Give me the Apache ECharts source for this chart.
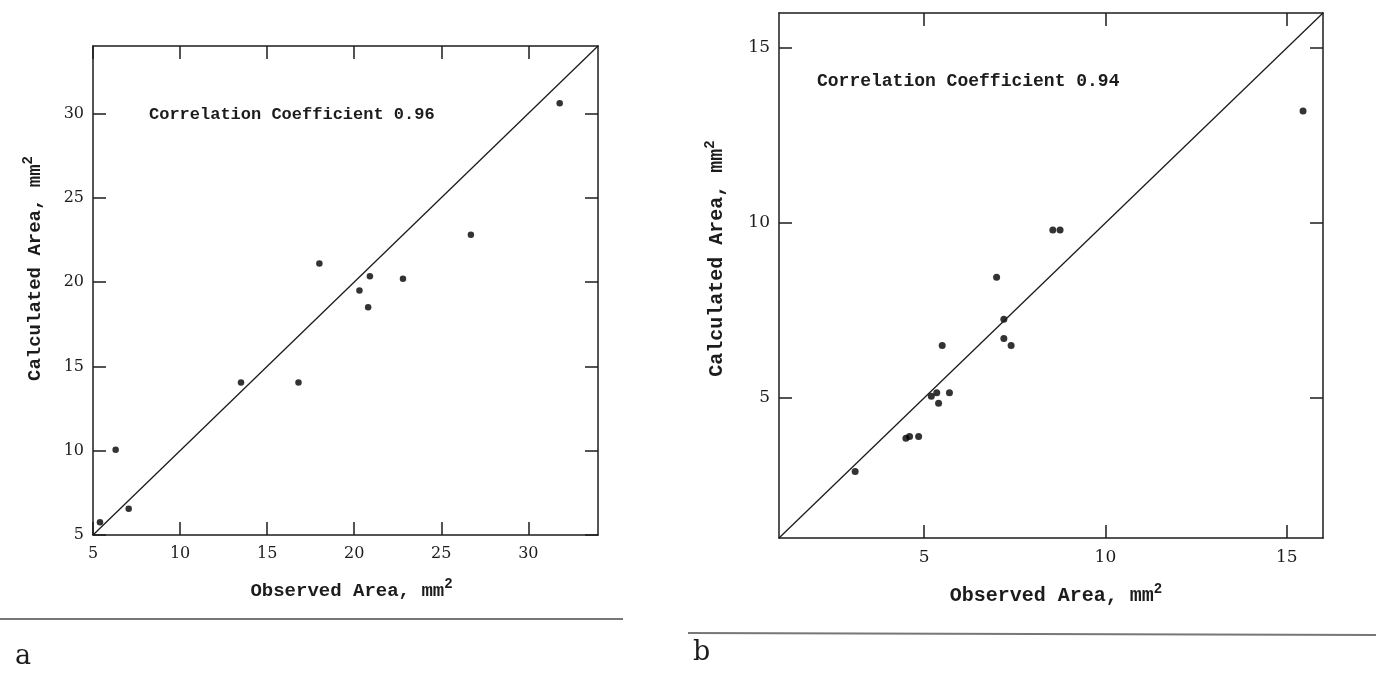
<!DOCTYPE html>
<html>
<head>
<meta charset="utf-8">
<script src="https://cdn.jsdelivr.net/npm/echarts@6/dist/echarts.min.js"></script>
<style>
  html, body { margin: 0; padding: 0; background: #fff; }
  #main { width: 1376px; height: 674px; }
</style>
</head>
<body>
<div id="main"></div>
<script>
// panel a
const leftObserved   = [5.4, 6.3, 7.05, 13.5, 16.8, 18.0, 20.3, 20.8, 20.9, 22.8, 26.7, 31.8];
const leftCalculated = [5.75, 10.05, 6.55, 14.05, 14.05, 21.1, 19.5, 18.5, 20.35, 20.2, 22.8, 30.6];
const leftRange = [5, 34];
const leftTicks = [5, 10, 15, 20, 25, 30];
const leftNote = 'Correlation Coefficient 0.96';

// panel b
const rightObserved   = [3.1, 4.5, 4.6, 4.85, 5.2, 5.35, 5.7, 5.4, 5.5, 7.0, 7.2, 7.2, 7.4, 8.55, 8.75, 15.45];
const rightCalculated = [2.9, 3.85, 3.9, 3.9, 5.05, 5.15, 5.15, 4.85, 6.5, 8.45, 7.25, 6.7, 6.5, 9.8, 9.8, 13.2];
const rightRange = [1, 16];
const rightTicks = [5, 10, 15];
const rightNote = 'Correlation Coefficient 0.94';

const xName = 'Observed Area, mm{sup|2}';
const yName = 'Calculated Area, mm{sup|2}';

const ink = '#1c1c1c';
const labelFont = 'DejaVu Serif';
const textFont = 'Liberation Mono';

const zip = (a, b) => a.map((v, i) => [v, b[i]]);

// one side of the boxed frame, ticks pointing inward
function axis(grid, pos, range, ticks, opts) {
  opts = opts || {};
  return {
    type: 'value',
    gridIndex: grid,
    position: pos,
    min: range[0],
    max: range[1],
    splitLine: { show: false },
    axisLine: { show: true, onZero: false, lineStyle: { color: ink, width: 1.5 } },
    axisTick: { show: true, inside: true, length: 13, customValues: ticks, lineStyle: { color: ink, width: 1.5 } },
    axisLabel: {
      show: !!opts.labels,
      customValues: ticks,
      showMinLabel: true,
      margin: opts.margin || 10,
      color: ink,
      fontFamily: labelFont,
      fontSize: opts.fontSize || 16
    },
    name: opts.name || '',
    nameLocation: 'middle',
    nameGap: opts.nameGap || 40,
    nameTextStyle: {
      color: ink,
      fontFamily: textFont,
      fontWeight: 'bold',
      fontSize: opts.nameSize || 19,
      padding: opts.namePad || 0,
      rich: {
        sup: { fontSize: 14, fontWeight: 'bold', fontFamily: textFont, color: ink, verticalAlign: 'top', padding: [0, 0, 14, 0] }
      }
    }
  };
}

const myChart = echarts.init(document.getElementById('main'));

const option = {
  backgroundColor: '#fff',
  animation: false,
  title: [
    { text: leftNote, left: 144, top: 101, textStyle: { fontFamily: textFont, fontWeight: 'bold', fontSize: 17, color: ink } },
    { text: rightNote, left: 812, top: 67, textStyle: { fontFamily: textFont, fontWeight: 'bold', fontSize: 18, color: ink } },
    { text: 'a', left: 10, top: 638, textStyle: { fontFamily: 'DejaVu Serif', fontWeight: 'normal', fontSize: 27, color: ink } },
    { text: 'b', left: 688, top: 634, textStyle: { fontFamily: 'DejaVu Serif', fontWeight: 'normal', fontSize: 27, color: ink } }
  ],
  graphic: [
    { type: 'line', shape: { x1: 0, y1: 619, x2: 623, y2: 619 }, style: { stroke: '#777', lineWidth: 2 } },
    { type: 'line', shape: { x1: 688, y1: 633, x2: 1376, y2: 635 }, style: { stroke: '#777', lineWidth: 2 } }
  ],
  grid: [
    { left: 93, top: 46, width: 505, height: 489 },
    { left: 779, top: 13, width: 544, height: 525 }
  ],
  xAxis: [
    axis(0, 'bottom', leftRange, leftTicks, { labels: true, margin: 11, name: xName, nameGap: 42, namePad: [0, 0, 0, 12] }),
    axis(0, 'top', leftRange, leftTicks),
    axis(1, 'bottom', rightRange, rightTicks, { labels: true, margin: 11, fontSize: 17, name: xName, nameGap: 44, nameSize: 20, namePad: [0, 0, 0, 10] }),
    axis(1, 'top', rightRange, rightTicks)
  ],
  yAxis: [
    axis(0, 'left', leftRange, leftTicks, { labels: true, margin: 9, name: yName, nameGap: 44, namePad: [0, 0, 0, 44] }),
    axis(0, 'right', leftRange, leftTicks),
    axis(1, 'left', rightRange, rightTicks, { labels: true, margin: 9, fontSize: 17, name: yName, nameGap: 48, nameSize: 20, namePad: [0, 0, 0, 34] }),
    axis(1, 'right', rightRange, rightTicks)
  ],
  series: [
    {
      type: 'line', xAxisIndex: 0, yAxisIndex: 0, silent: true, symbol: 'none',
      lineStyle: { color: ink, width: 1.3 },
      data: [[leftRange[0], leftRange[0]], [leftRange[1], leftRange[1]]]
    },
    {
      type: 'scatter', xAxisIndex: 0, yAxisIndex: 0, symbolSize: 6.5,
      itemStyle: { color: '#000' },
      data: zip(leftObserved, leftCalculated)
    },
    {
      type: 'line', xAxisIndex: 2, yAxisIndex: 2, silent: true, symbol: 'none',
      lineStyle: { color: ink, width: 1.3 },
      data: [[rightRange[0], rightRange[0]], [rightRange[1], rightRange[1]]]
    },
    {
      type: 'scatter', xAxisIndex: 2, yAxisIndex: 2, symbolSize: 7,
      itemStyle: { color: '#000' },
      data: zip(rightObserved, rightCalculated)
    }
  ]
};

myChart.setOption(option);
</script>
</body>
</html>
